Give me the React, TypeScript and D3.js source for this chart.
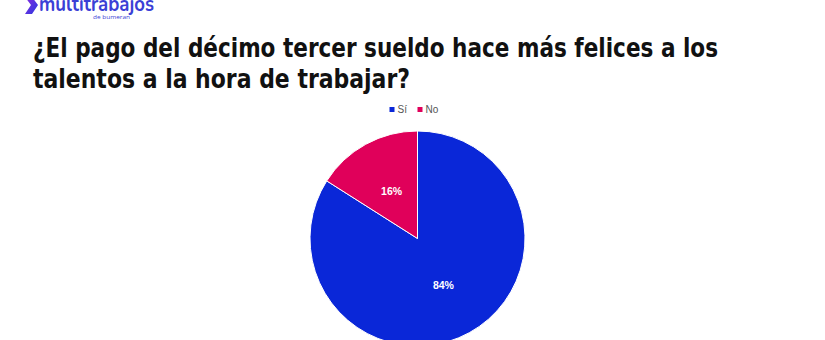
import React from "react";
import * as d3 from "d3";

const categories = ["Sí", "No"];
const values = [84, 16];
const colors = ["#0A27D8", "#E0005A"];
const titleLines = [
  "¿El pago del décimo tercer sueldo hace más felices a los",
  "talentos a la hora de trabajar?",
];

export default function App() {
  const W = 825, H = 340;
  const cx = 417.5, cy = 238.5, r = 107.5;
  const pie = d3.pie<number>().sort(null)(values);
  const arc = d3.arc<d3.PieArcDatum<number>>().innerRadius(0).outerRadius(r);
  const labelArc = d3.arc<d3.PieArcDatum<number>>().innerRadius(0).outerRadius(r);
  return (
    <svg width={W} height={H} style={{ position: "absolute", left: 0, top: 0, background: "#fff" }}>
      <defs>
        <linearGradient id="chev" x1="0" y1="0" x2="1" y2="1">
          <stop offset="0%" stopColor="#8a2be0" />
          <stop offset="100%" stopColor="#2a3ae0" />
        </linearGradient>
      </defs>
      <rect width={W} height={H} fill="#fff" />
      {/* logo */}
      <path d="M25,-3 L32,-3 L38,5 L32,14 L25,14 L31,5 Z" fill="url(#chev)" />
      <text x={39} y={11} fontFamily="Nunito, 'Open Sans', sans-serif" fontSize={21} fontWeight={700} fill="#3b3fd6" textLength={115} lengthAdjust="spacingAndGlyphs">multitrabajos</text>
      <text x={93} y={19} fontFamily="'Open Sans', sans-serif" fontSize={5.5} fill="#3b3fd6" textLength={37} lengthAdjust="spacingAndGlyphs">de bumeran</text>
      {/* title */}
      {titleLines.map((t, i) => (
        <text key={i} x={33} y={57 + i * 31} fontFamily="'DejaVu Sans Condensed', 'DejaVu Sans', sans-serif" fontSize={26} fontWeight="bold" fill="#111" textLength={i === 0 ? 685 : 377} lengthAdjust="spacingAndGlyphs">{t}</text>
      ))}
      {/* legend */}
      {categories.map((c, i) => {
        const x0 = i === 0 ? 389.5 : 417.5;
        return (
          <g key={c}>
            <rect x={x0} y={107} width={5} height={5} fill={colors[i]} />
            <text x={x0 + 8} y={113} fontFamily="Arial, 'Liberation Sans', sans-serif" fontSize={10} fill="#555">{c}</text>
          </g>
        );
      })}
      {/* pie */}
      <g transform={`translate(${cx},${cy})`}>
        {pie.map((d, i) => (
          <path key={i} d={arc(d) || ""} fill={colors[i]} stroke="#fff" strokeWidth={1} />
        ))}
        {pie.map((d, i) => {
          const [lx, ly] = labelArc.centroid(d);
          return (
            <text key={"l" + i} x={lx} y={ly} dy="0.35em" textAnchor="middle" fontFamily="Arial, 'Liberation Sans', sans-serif" fontSize={10.5} fontWeight="bold" fill="#fff">{values[i]}%</text>
          );
        })}
      </g>
    </svg>
  );
}
